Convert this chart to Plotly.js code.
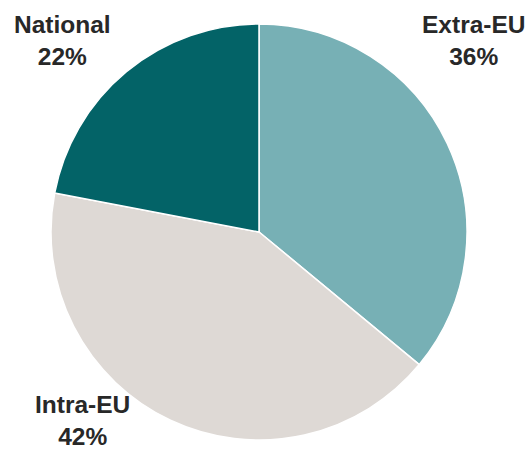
<!DOCTYPE html>
<html>
<head>
<meta charset="utf-8">
<script src="https://cdn.plot.ly/plotly-3.0.1.min.js"></script>
<style>html,body{margin:0;padding:0;background:#fff;}#chart{width:526px;height:452px;}</style>
</head>
<body>
<div id="chart"></div>
<script>
const categories = ["Extra-EU", "Intra-EU", "National"];
const shares = [36, 42, 22];
const sliceColors = ["#77B0B5", "#DED9D5", "#036367"];
const labelPos = [[473, 9], [82, 389], [62, 9]];

const W = 526, H = 452;
const annotations = categories.map((c, i) => ({
  xref: "paper", yref: "paper",
  x: labelPos[i][0] / W, y: 1 - labelPos[i][1] / H,
  xanchor: "center", yanchor: "top",
  text: "<b>" + c + "</b><br><b>" + shares[i] + "%</b>",
  showarrow: false,
  align: "center",
  font: {family: "Liberation Sans, Arial, sans-serif", size: 24.5, color: "#282828"}
}));

Plotly.newPlot("chart", [{
  type: "pie",
  labels: categories,
  values: shares,
  sort: false,
  direction: "clockwise",
  rotation: 0,
  textinfo: "none",
  hoverinfo: "none",
  automargin: false,
  marker: {colors: sliceColors, line: {color: "#ffffff", width: 1.5}},
  domain: {x: [51 / W, 467 / W], y: [1 - 440 / H, 1 - 24 / H]}
}], {
  width: W, height: H,
  margin: {l: 0, r: 0, t: 0, b: 0},
  showlegend: false,
  paper_bgcolor: "#ffffff",
  annotations: annotations
}, {staticPlot: true, displayModeBar: false});
</script>
</body>
</html>
